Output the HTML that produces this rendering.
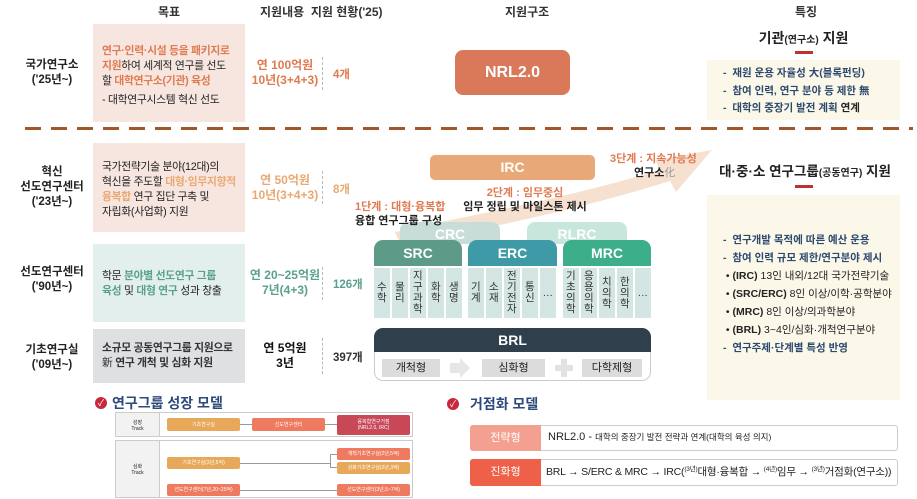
<!DOCTYPE html>
<html><head><meta charset="utf-8">
<style>
*{margin:0;padding:0;box-sizing:border-box}
body{width:917px;height:499px;background:#fff;position:relative;overflow:hidden;font-family:"Liberation Sans","Noto Sans CJK KR",sans-serif;color:#222}
.a{position:absolute}
.b{font-weight:bold}
.c{text-align:center}
.hd{font-size:12px;font-weight:bold;color:#333;top:3px}
.lbl{font-size:11.5px;font-weight:bold;line-height:15px;text-align:center;width:90px;left:7px}
.box{font-size:10.8px;line-height:15px;padding:0 9px;white-space:nowrap;letter-spacing:-0.3px}
.o{color:#e07a50;font-weight:bold}
.lo{color:#eaa872;font-weight:bold}
.t{color:#5aa08e;font-weight:bold}
.amt{font-size:12px;font-weight:bold;line-height:15px;text-align:center;width:90px;left:240px}
.cnt{font-size:11.5px;font-weight:bold;left:333px}
.vd{border-left:1.5px dashed #bbb;width:0;left:322px}
.col{background:#d3e6e4;width:15.6px;top:268px;height:50px;font-size:10.5px;line-height:11px;display:flex;align-items:center;justify-content:center;text-align:center;color:#333}
.hdr{color:#fff;font-weight:bold;font-size:14px;text-align:center;border-radius:9px 9px 0 0;height:26px;line-height:26px;top:240px}
.ft{font-size:10.5px;line-height:17.5px;color:#2c4a6e;font-weight:bold}
.sm{font-size:5px;color:#fff;text-align:center;display:flex;align-items:center;justify-content:center;border-radius:2px;line-height:6px}
sup{font-size:6.5px;line-height:0;vertical-align:4px}
</style></head><body>

<div class="a hd" style="left:158px">목표</div>
<div class="a hd" style="left:260px">지원내용 &nbsp;지원 현황('25)</div>
<div class="a hd" style="left:505px">지원구조</div>
<div class="a hd" style="left:795px">특징</div>

<div class="a lbl" style="top:58px">국가연구소<br>('25년~)</div>
<div class="a box" style="left:93px;top:24px;width:152px;height:98px;background:#f7e6e0;padding-top:20px"><span class="o">연구·인력·시설 등을 패키지로</span><br><span class="o">지원</span>하여 세계적 연구를 선도<br>할 <span class="o">대학연구소(기관) 육성</span><div style="margin-top:4px">- 대학연구시스템 혁신 선도</div></div>
<div class="a amt o" style="top:58px">연 100억원<br>10년(3+4+3)</div>
<div class="a vd" style="top:57px;height:33px"></div>
<div class="a cnt o" style="top:66px">4개</div>
<div class="a c b" style="left:455px;top:50px;width:115px;height:45px;background:#d9795a;border-radius:8px;color:#fff;font-size:16px;line-height:45px">NRL2.0</div>

<div class="a c b" style="left:707px;top:28px;width:193px;font-size:14px">기관<span style="font-size:10px">(연구소)</span> 지원</div>
<div class="a" style="left:795px;top:51px;width:18px;height:3px;background:#c03030"></div>
<div class="a ft" style="left:707px;top:60px;width:193px;height:60px;background:#fbf8ea;padding:5px 0 0 16px">-&nbsp; 재원 운용 자율성 大(블록펀딩)<br>-&nbsp; 참여 인력, 연구 분야 등 제한 無<br>-&nbsp; 대학의 중장기 발전 계획 <span style="color:#222">연계</span></div>

<div class="a" style="left:25px;top:127px;width:888px;height:3px;background:repeating-linear-gradient(90deg,#a0582a 0 16px,transparent 16px 26px)"></div>

<div class="a lbl" style="top:165px">혁신<br>선도연구센터<br>('23년~)</div>
<div class="a box" style="left:93px;top:143px;width:152px;height:89px;background:#f7e6e0;padding-top:17px">국가전략기술 분야(12대)의<br>혁신을 주도할 <span class="lo">대형·임무지향적</span><br><span class="lo">융복합</span> 연구 집단 구축 및<br>자립화(사업화) 지원</div>
<div class="a amt lo" style="top:173px">연 50억원<br>10년(3+4+3)</div>
<div class="a vd" style="top:171px;height:33px"></div>
<div class="a cnt lo" style="top:181px">8개</div>

<div class="a lbl" style="top:265px">선도연구센터<br>('90년~)</div>
<div class="a box" style="left:93px;top:244px;width:152px;height:78px;background:#e3efec;padding-top:25px">학문 <span class="t">분야별 선도연구 그룹</span><br><span class="t">육성</span> 및 <span class="t">대형 연구</span> 성과 창출</div>
<div class="a amt t" style="top:268px">연 20~25억원<br>7년(4+3)</div>
<div class="a vd" style="top:267px;height:33px"></div>
<div class="a cnt t" style="top:276px">126개</div>

<div class="a lbl" style="top:343px">기초연구실<br>('09년~)</div>
<div class="a box b" style="left:93px;top:329px;width:152px;height:54px;background:#dfe0e2;padding-top:12px;color:#333">소규모 공동연구그룹 지원으로<br><span style="font-weight:normal">新</span> 연구 개척 및 심화 지원</div>
<div class="a amt" style="top:341px;color:#111">연 5억원<br>3년</div>
<div class="a vd" style="top:338px;height:36px"></div>
<div class="a cnt" style="top:349px;color:#333">397개</div>

<svg class="a" style="left:0;top:0" width="917" height="499">
<path d="M395 232 C 470 215, 560 200, 660 170 L 655 160 L 712 150 L 676 192 L 670 181 C 570 212, 480 230, 400 244 Z" fill="#f5dcc9" opacity="0.85"/>
</svg>
<div class="a c b" style="left:430px;top:155px;width:165px;height:25px;background:#e8a878;border-radius:5px;color:#fff;font-size:14px;line-height:25px">IRC</div>
<div class="a b" style="left:610px;top:150px;font-size:11px;color:#e07a50">3단계 : 지속가능성</div>
<div class="a b" style="left:634px;top:164px;font-size:11px">연구소<span style="font-weight:normal;color:#999">化</span></div>
<div class="a b c" style="left:440px;top:184px;width:170px;font-size:11px;color:#e07a50">2단계 : 임무중심</div>
<div class="a b c" style="left:440px;top:198px;width:170px;font-size:11px">임무 정립 및 마일스톤 제시</div>

<div class="a c b" style="left:400px;top:222px;width:100px;height:22px;background:#c9ddd8;border-radius:8px 8px 0 0;color:#fff;font-size:14px;line-height:24px">CRC</div>
<div class="a c b" style="left:527px;top:222px;width:100px;height:22px;background:#c8e6dc;border-radius:8px 8px 0 0;color:#fff;font-size:14px;line-height:24px">RLRC</div>
<div class="a b" style="left:355px;top:198px;font-size:11px;color:#e07a50">1단계 : 대형·융복합</div>
<div class="a b" style="left:355px;top:212px;font-size:11px">융합 연구그룹 구성</div>

<div class="a hdr" style="left:374px;width:88px;background:#5e9a88">SRC</div>
<div class="a hdr" style="left:468px;width:89px;background:#3f9aa8">ERC</div>
<div class="a hdr" style="left:563px;width:88px;background:#3cae8a">MRC</div>

<div class="a col" style="left:374px">수<br>학</div>
<div class="a col" style="left:392px">물<br>리</div>
<div class="a col" style="left:410px">지<br>구<br>과<br>학</div>
<div class="a col" style="left:428px">화<br>학</div>
<div class="a col" style="left:446px">생<br>명</div>
<div class="a col" style="left:468px">기<br>계</div>
<div class="a col" style="left:486px">소<br>재</div>
<div class="a col" style="left:504px">전<br>기<br>전<br>자</div>
<div class="a col" style="left:522px">통<br>신</div>
<div class="a col" style="left:540px">…</div>
<div class="a col" style="left:563px">기<br>초<br>의<br>학</div>
<div class="a col" style="left:581px">응<br>용<br>의<br>학</div>
<div class="a col" style="left:599px">치<br>의<br>학</div>
<div class="a col" style="left:617px">한<br>의<br>학</div>
<div class="a col" style="left:635px">…</div>

<div class="a" style="left:374px;top:328px;width:277px;height:53px;border:1px solid #ccc;border-radius:9px;background:#fff"></div>
<div class="a c b" style="left:374px;top:328px;width:277px;height:24px;background:#2f3f4c;border-radius:9px 9px 0 0;color:#fff;font-size:14px;line-height:24px">BRL</div>
<div class="a c" style="left:382px;top:359px;width:58px;height:18px;background:#dcdcdc;font-size:11px;line-height:18px">개척형</div>
<svg class="a" style="left:448px;top:356px" width="24" height="24"><path d="M2 7 H12 V2 L22 12 L12 22 V17 H2 Z" fill="#e6e6e6"/></svg>
<div class="a c" style="left:482px;top:359px;width:63px;height:18px;background:#dcdcdc;font-size:11px;line-height:18px">심화형</div>
<div class="a" style="left:555px;top:365px;width:18px;height:6px;background:#e2e2e2"></div>
<div class="a" style="left:561px;top:359px;width:6px;height:18px;background:#e2e2e2"></div>
<div class="a c" style="left:582px;top:359px;width:60px;height:18px;background:#dcdcdc;font-size:11px;line-height:18px">다학제형</div>

<div class="a c b" style="left:700px;top:160px;width:210px;font-size:13.5px">대·중·소 연구그룹<span style="font-size:10px">(공동연구)</span> 지원</div>
<div class="a" style="left:795px;top:185px;width:18px;height:3px;background:#c03030"></div>
<div class="a ft" style="left:707px;top:195px;width:193px;height:205px;background:#fbf8ea;padding:36px 0 0 16px;line-height:18px">-&nbsp; 연구개발 목적에 따른 예산 운용<br>-&nbsp; 참여 인력 규모 제한/연구분야 제시<br><span style="color:#222;font-weight:normal">&nbsp;• <b>(IRC)</b> 13인 내외/12대 국가전략기술<br>&nbsp;• <b>(SRC/ERC)</b> 8인 이상/이학·공학분야<br>&nbsp;• <b>(MRC)</b> 8인 이상/의과학분야<br>&nbsp;• <b>(BRL)</b> 3~4인/심화·개척연구분야</span><br>-&nbsp; 연구주제·단계별 특성 반영</div>

<div class="a" style="left:95px;top:397px;width:12px;height:12px;border-radius:50%;background:#c8283c;color:#fff;font-size:9px;line-height:12px;text-align:center">✓</div>
<div class="a b" style="left:112px;top:393px;font-size:14px;color:#2c4a7a">연구그룹 성장 모델</div>
<div class="a" style="left:115px;top:412px;width:298px;height:25px;border:1px solid #ccc;background:#fff"></div>
<div class="a" style="left:115px;top:440px;width:298px;height:58px;border:1px solid #ccc;background:#fff"></div>
<div class="a" style="left:115px;top:412px;width:45px;height:25px;background:#f2f2f2;border:1px solid #ccc;font-size:5px;text-align:center;padding-top:7px;line-height:6px">성장<br>Track</div>
<div class="a" style="left:115px;top:440px;width:45px;height:58px;background:#f2f2f2;border:1px solid #ccc;font-size:5px;text-align:center;padding-top:23px;line-height:6px">심화<br>Track</div>
<div class="a" style="left:240px;top:424px;width:12px;border-top:1px solid #999"></div>
<div class="a" style="left:325px;top:424px;width:12px;border-top:1px solid #999"></div>
<div class="a sm" style="left:167px;top:418px;width:73px;height:13px;background:#e8a85a">기초연구실</div>
<div class="a sm" style="left:252px;top:418px;width:73px;height:13px;background:#ee7a60">선도연구센터</div>
<div class="a sm" style="left:337px;top:415px;width:73px;height:20px;background:#c84858">융복합연구거점<br>(NRL2.0, IRC)</div>
<div class="a" style="left:240px;top:463px;width:90px;border-top:1px solid #999"></div>
<div class="a" style="left:330px;top:454px;height:14px;width:7px;border:1px solid #999;border-right:none"></div>
<div class="a" style="left:240px;top:490px;width:97px;border-top:1px solid #999"></div>
<div class="a sm" style="left:167px;top:457px;width:73px;height:12px;background:#e8a85a">기초연구실(3년,5억)</div>
<div class="a sm" style="left:337px;top:448px;width:73px;height:12px;background:#ee7a60">개척기초연구실(2년,5억)</div>
<div class="a sm" style="left:337px;top:462px;width:73px;height:12px;background:#e8a85a">심화기초연구실(2년,3억)</div>
<div class="a sm" style="left:167px;top:484px;width:73px;height:12px;background:#ee7a60">선도연구센터(7년,20~25억)</div>
<div class="a sm" style="left:337px;top:484px;width:73px;height:12px;background:#ee7a60">선도연구센터(3년,5~7억)</div>

<div class="a" style="left:447px;top:398px;width:12px;height:12px;border-radius:50%;background:#c8283c;color:#fff;font-size:9px;line-height:12px;text-align:center">✓</div>
<div class="a b" style="left:470px;top:394px;font-size:14px;color:#2c4a7a">거점화 모델</div>
<div class="a" style="left:470px;top:425px;width:428px;height:26px;border:1px solid #ccc;border-radius:3px;background:#fff"></div>
<div class="a c" style="left:470px;top:425px;width:71px;height:26px;background:#f4a090;border-radius:3px 0 0 3px;color:#fff;font-size:11px;line-height:26px">전략형</div>
<div class="a" style="left:548px;top:431px;font-size:11px">NRL2.0 - <span style="font-size:8.5px">대학의 중장기 발전 전략과 연계(대학의 육성 의지)</span></div>
<div class="a" style="left:470px;top:459px;width:428px;height:27px;border:1px solid #ccc;border-radius:3px;background:#fff"></div>
<div class="a c" style="left:470px;top:459px;width:71px;height:27px;background:#ee6048;border-radius:3px 0 0 3px;color:#fff;font-size:11px;line-height:27px">진화형</div>
<div class="a" style="left:546px;top:459px;height:27px;line-height:27px;font-size:10.5px;white-space:nowrap;letter-spacing:-0.2px">BRL → S/ERC &amp; MRC → IRC(<sup>(3년)</sup>대형·융복합 → <sup>(4년)</sup>임무 → <sup>(3년)</sup>거점화(연구소))</div>
</body></html>
